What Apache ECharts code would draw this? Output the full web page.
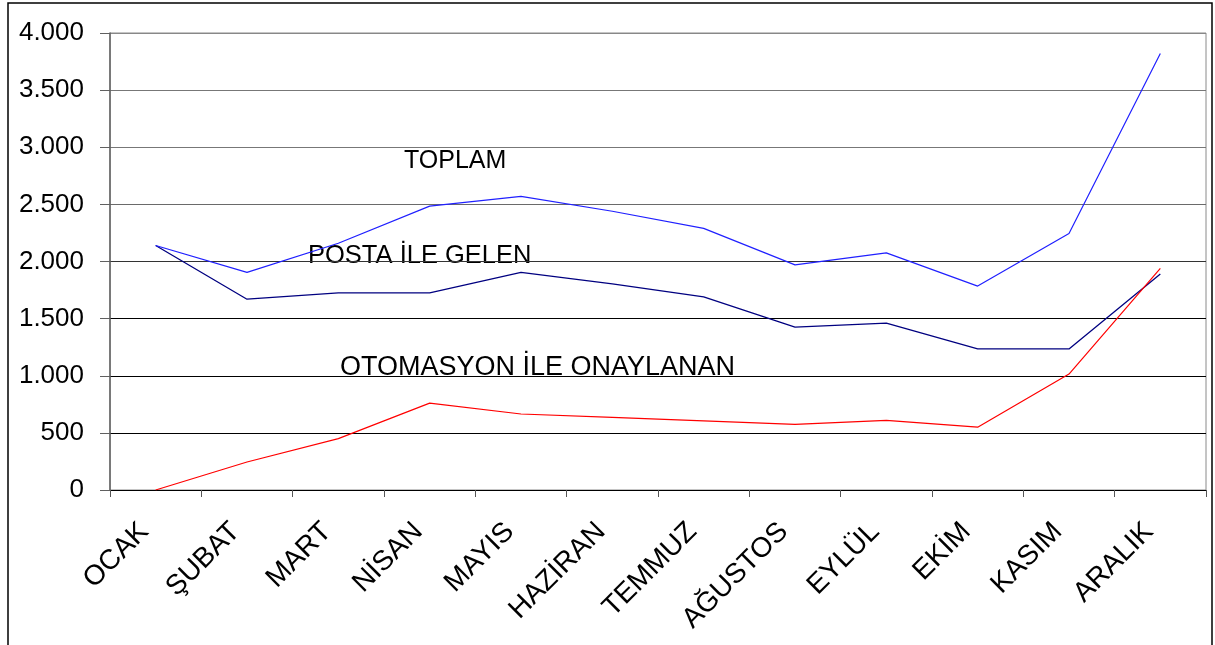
<!DOCTYPE html>
<html>
<head>
<meta charset="utf-8">
<script src="https://cdn.jsdelivr.net/npm/echarts@6/dist/echarts.min.js"></script>
<style>
html,body{margin:0;padding:0;background:#fff;}
#main{width:1215px;height:645px;}
</style>
</head>
<body>
<div id="main"></div>
<script>
const months = ['OCAK','ŞUBAT','MART','NİSAN','MAYIS','HAZİRAN','TEMMUZ','AĞUSTOS','EYLÜL','EKİM','KASIM','ARALIK'];
const toplam = [2140, 1905, 2160, 2485, 2570, 2440, 2290, 1970, 2075, 1785, 2245, 3820];
const posta = [2140, 1670, 1725, 1725, 1905, 1805, 1690, 1425, 1460, 1235, 1235, 1890];
const otomasyon = [0, 245, 450, 760, 665, 635, 605, 575, 610, 550, 1015, 1940];
const yTicks = [0, 500, 1000, 1500, 2000, 2500, 3000, 3500, 4000];
const seriesNames = ['TOPLAM', 'POSTA İLE GELEN', 'OTOMASYON İLE ONAYLANAN'];

const FONT = '"Liberation Sans", Arial, sans-serif';
const chart = echarts.init(document.getElementById('main'), null, {renderer: 'canvas'});

function fmt(v){ return String(v).replace(/\B(?=(\d{3})+(?!\d))/g, '.'); }

chart.setOption({
  animation: false,
  backgroundColor: '#fff',
  grid: {left: 110, right: 9, top: 33, bottom: 155, containLabel: false, outerBoundsMode: 'none',
         show: true, borderColor: '#8a8a8a', borderWidth: 1},
  xAxis: {
    type: 'category', data: months, boundaryGap: true,
    axisLine: {lineStyle: {color: '#000', width: 1}},
    axisTick: {show: true, length: 7, inside: false, lineStyle: {color: '#555'}},
    axisLabel: {rotate: 45, margin: 26, fontSize: 28, color: '#000', fontFamily: FONT, interval: 0, padding: [0, 16, 0, 0]}
  },
  yAxis: {
    type: 'value', min: yTicks[0], max: yTicks[yTicks.length-1], interval: 500,
    axisLine: {show: true, lineStyle: {color: '#606060', width: 1.5}},
    axisTick: {show: true, length: 10, lineStyle: {color: '#606060'}},
    axisLabel: {fontSize: 26, color: '#000', fontFamily: FONT, margin: 26, formatter: fmt},
    splitLine: {show: true, lineStyle: {color: ['#000','#000','#000','#000','#333','#6a6a6a','#777','#777','#888'], width: 1}}
  },
  series: [
    {name: seriesNames[0], type: 'line', data: toplam, symbol: 'none', lineStyle: {color: '#2020ff', width: 1.2}, z: 3},
    {name: seriesNames[1], type: 'line', data: posta, symbol: 'none', lineStyle: {color: '#000080', width: 1.3}, z: 2},
    {name: seriesNames[2], type: 'line', data: otomasyon, symbol: 'none', lineStyle: {color: '#ff0000', width: 1.2}, z: 4}
  ],
  graphic: [
    {type: 'rect', shape: {x: 8, y: 3, width: 1204, height: 700}, style: {fill: 'none', stroke: '#000', lineWidth: 1.5}, silent: true},
    {type: 'text', x: 404, y: 161, style: {text: seriesNames[0], font: '25px ' + FONT, fill: '#000', verticalAlign: 'middle'}},
    {type: 'text', x: 308, y: 256, style: {text: seriesNames[1], font: '25.5px ' + FONT, fill: '#000', verticalAlign: 'middle'}},
    {type: 'text', x: 340, y: 368, style: {text: seriesNames[2], font: '27px ' + FONT, fill: '#000', verticalAlign: 'middle'}}
  ]
});
</script>
</body>
</html>
